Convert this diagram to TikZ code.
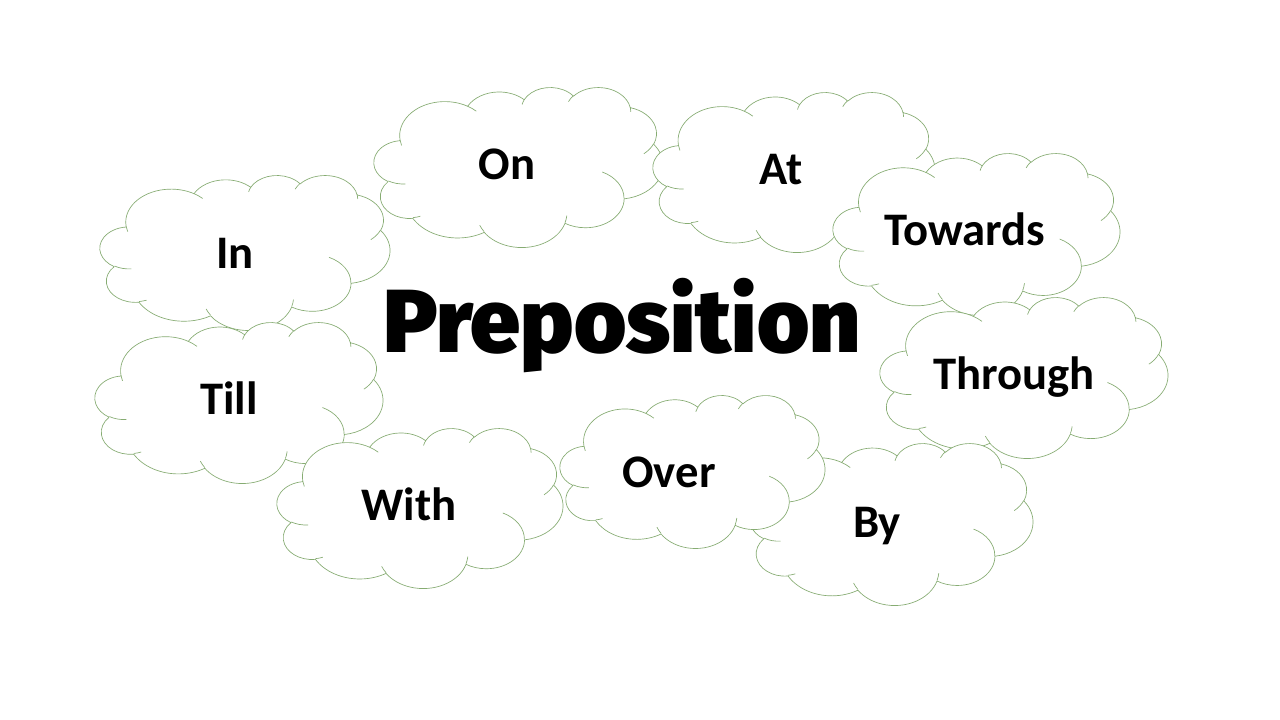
\documentclass[tikz,border=0pt]{standalone}
\usepackage{fontspec}
\setmainfont{Carlito}
\newfontfamily\prepfont{Fira Sans Black}
\usepackage{graphicx}
\definecolor{cloudgreen}{HTML}{86AC72}
\tikzset{
  cloudline/.style={draw=cloudgreen, line width=0.5pt, line join=round},
  lbl/.style={inner sep=0pt, anchor=base, font=\fontsize{35}{42}\selectfont\bfseries},
}
% arc with OOXML "visual" angles converted to parametric angles
\newcommand\mkarc[5]{%
  \pgfmathsetmacro\tA{atan2((#2)*sin(#4),(#3)*cos(#4))}%
  \pgfmathsetmacro\tB{atan2((#2)*sin((#4)+(#5)),(#3)*cos((#4)+(#5)))}%
  \pgfmathsetmacro\tD{\tB-\tA}%
  \pgfmathsetmacro\tD{\tD+360*((#5)>0)*(\tD<0)-360*((#5)<0)*(\tD>0)}%
  \expandafter\xdef\csname ca#1\endcsname{arc[x radius=#2, y radius=#3, start angle=\tA, delta angle=\tD]}%
}
\mkarc{A}{6.753}{9.190}{-190.48748}{123.78053}
\mkarc{B}{5.333}{7.267}{-144.10238}{89.94523}
\mkarc{C}{4.365}{5.945}{-145.80792}{99.72302}
\mkarc{D}{4.857}{6.595}{-130.98607}{117.24173}
\mkarc{E}{5.333}{7.273}{-78.70888}{109.02692}
\mkarc{F}{6.775}{9.220}{-46.26725}{130.269}
\mkarc{G}{5.785}{7.867}{0.62502}{114.03333}
\mkarc{H}{6.752}{9.215}{22.4516}{115.17255}
\mkarc{I}{7.720}{10.543}{66.24263}{75.71102}
\mkarc{J}{4.360}{5.918}{-274.94208}{146.73557}
\mkarc{K}{4.345}{5.945}{-246.8285}{152.51885}
\mkarc{a}{4.345}{5.945}{86.742}{26.4295}
\mkarc{b}{4.360}{5.918}{73.6105}{11.4475}
\mkarc{c}{6.752}{9.215}{137.6242}{14.0811}
\mkarc{d}{6.752}{9.215}{6.4533}{15.9984}
\mkarc{e}{5.785}{7.867}{-70.2924}{70.9174}
\mkarc{f}{5.333}{7.273}{30.3180}{27.7515}
\mkarc{g}{4.857}{6.595}{-13.7443}{14.8589}
\mkarc{h}{4.857}{6.595}{-149.1815}{18.1954}
\mkarc{i}{4.365}{5.945}{-163.4943}{17.8409}
\mkarc{j}{6.753}{9.190}{-66.7070}{12.3194}
\mkarc{k}{6.753}{9.190}{157.6544}{11.8582}
\newcommand\cloudmain{(3.900,14.370) \caA \caB \caC \caD \caE \caF \caG \caH \caI \caJ \caK -- cycle}
\newcommand\cloudinner{(4.693,26.177) \caa (6.928,34.899) \cab (16.478,39.090) \cac (28.827,34.751) \cad (34.129,22.954) \cae (41.798,15.354) \caf (38.324,5.426) \cag (29.078,3.952) \cah (22.141,4.720) \cai (14.000,5.192) \caj (4.127,15.789) \cak}
\newcommand\cloudshape[4]{%
  \begin{scope}[shift={(#1,#2)}, x=1cm, y=1cm, xscale={(#3-#1)*0.0263595/43.2}, yscale={(#4-#2)*0.0263595/43.2}]
    \path[cloudline, fill=white] \cloudmain;
    \path[cloudline] \cloudinner;
  \end{scope}}
\begin{document}
\begin{tikzpicture}[x=0.75pt, y=0.75pt, yscale=-1]
  \fill[white] (0,0) rectangle (1280,720);
  \useasboundingbox (0,0) rectangle (1280,720);
  % clouds (x0,y0,x1,y1 in px)
  \cloudshape{100}{175}{390}{330}   % In
  \cloudshape{374}{87}{663}{247}    % On
  \cloudshape{653}{92}{935}{252}    % At
  \cloudshape{833}{153}{1120}{315}  % Towards
  \cloudshape{880}{297}{1168}{458}  % Through
  \cloudshape{95}{322}{383}{483}    % Till
  \cloudshape{277}{428}{563}{588}   % With
  \cloudshape{750}{443}{1033}{605}  % By
  \cloudshape{560}{395}{825}{548}   % Over
  % labels
  \node[lbl] (in) at (235,268) {In};
  \node[lbl] (on) at (507,180) {On};
  \node[lbl] (at) at (781,185) {At};
  \node[lbl] (towards) at (965,246) {Towards};
  \node[lbl] (through) at (1014,389) {Through};
  \node[lbl] (till) at (229,414) {Till};
  \node[lbl] (with) at (409,520) {With};
  \node[lbl] (over) at (669,487) {Over};
  \node[lbl] (by) at (877,537) {By};
  \node[inner sep=0pt, anchor=base] (prep) at (622,352) {\resizebox{357.75pt}{!}{\prepfont Preposition}};
\end{tikzpicture}
\end{document}
